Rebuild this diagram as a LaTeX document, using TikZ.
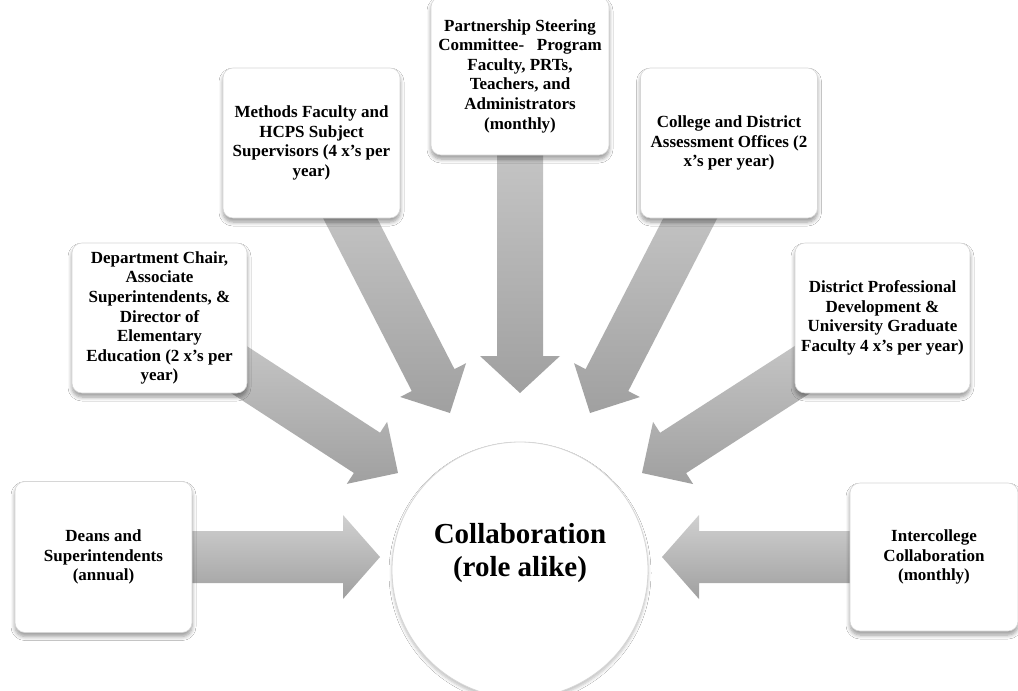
\documentclass[tikz,border=0pt]{standalone}
\usepackage{fontspec}
\setmainfont{Liberation Serif}
\usetikzlibrary{calc,shadows.blur,backgrounds}
\definecolor{arlight}{HTML}{D0D0D0}
\definecolor{ardark}{HTML}{A0A0A0}
\definecolor{boxline}{HTML}{D6D6D6}
\tikzset{
  infobox/.style={draw=boxline, line width=0.6pt, fill=white, rounded corners=10pt,
    minimum width=176pt, minimum height=150pt, align=center, inner sep=2pt,
    font=\fontsize{17}{19.6}\selectfont\bfseries,
    blur shadow={shadow xshift=0pt, shadow yshift=-4pt, shadow blur radius=4pt, shadow blur steps=6, shadow opacity=40}},
  fatshade/.style={top color=arlight, bottom color=ardark},
  centerlabel/.style={align=center, font=\fontsize{29}{33}\selectfont\bfseries},
  hubcircle/.style={circle, draw=boxline, line width=0.8pt, fill=white, minimum size=256pt, inner sep=0pt,
    blur shadow={shadow xshift=0pt, shadow yshift=-3pt, shadow blur radius=3pt, shadow blur steps=5, shadow opacity=25}}
}
\newcommand\fatarrow[4]{%
  \coordinate (ab) at ($(#2)!37pt!(#1.center)$);
  \shade[fatshade] ($(#1.center)!#3!90:(#2)$) -- ($(ab)!#3!90:(#2)$) -- ($(ab)!#4!90:(#2)$) -- (#2)
    -- ($(ab)!#4!-90:(#2)$) -- ($(ab)!#3!-90:(#2)$) -- ($(#1.center)!#3!-90:(#2)$) -- cycle;
}
\begin{document}
\begin{tikzpicture}[x=1pt,y=-1pt]
\useasboundingbox (0,0) rectangle (1018,691);

\node[hubcircle] (hub) at (520,570) {};
\node[centerlabel] (hubtext) at (520,553) {Collaboration\\(role alike)};

\node[infobox, minimum width=177pt, minimum height=151pt] (deans) at (103.5,557) {Deans and\\Superintendents\\(annual)};
\node[infobox, minimum width=175pt] (dept) at (159.5,318) {Department Chair,\\Associate\\Superintendents, \&\\Director of\\Elementary\\Education (2 x’s per\\year)};
\node[infobox, minimum width=177pt] (meth) at (311.5,143) {Methods Faculty and\\HCPS Subject\\Supervisors (4 x’s per\\year)};
\node[infobox, minimum width=178pt, minimum height=158pt] (part) at (520,76) {Partnership Steering\\Committee-\ \ \ Program\\Faculty, PRTs,\\Teachers, and\\Administrators\\(monthly)};
\node[infobox, minimum width=177pt] (coll) at (729,143) {College and District\\Assessment Offices (2\\x’s per year)};
\node[infobox, minimum width=175pt] (dist) at (882.5,318) {District Professional\\Development \&\\University Graduate\\Faculty 4 x’s per year)};
\node[infobox, minimum width=168pt, minimum height=148pt] (inter) at (934,557) {Intercollege\\Collaboration\\(monthly)};

\coordinate (tDeans) at (380,557);
\coordinate (tInter) at (662,557);
\coordinate (tPart) at (520,393);
\coordinate (tMeth) at (450,413);
\coordinate (tColl) at (590,413);
\coordinate (tDept) at (398,473);
\coordinate (tDist) at (642,473);

\begin{scope}[on background layer]
  \fill[white] (0,0) rectangle (1018,691);
  \fatarrow{deans}{tDeans}{26pt}{42pt}
  \fatarrow{inter}{tInter}{26pt}{42pt}
  \fatarrow{part}{tPart}{23pt}{40pt}
  \fatarrow{meth}{tMeth}{24pt}{37pt}
  \fatarrow{coll}{tColl}{24pt}{37pt}
  \fatarrow{dept}{tDept}{24pt}{37pt}
  \fatarrow{dist}{tDist}{24pt}{37pt}
\end{scope}
\end{tikzpicture}
\end{document}
